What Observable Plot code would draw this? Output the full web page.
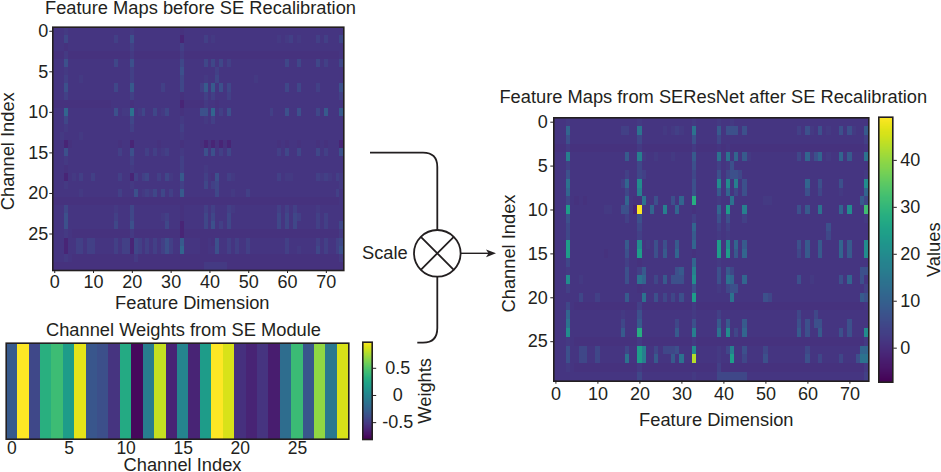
<!DOCTYPE html>
<html><head><meta charset="utf-8">
<script src="https://cdn.jsdelivr.net/npm/d3@7"></script>
<script src="https://cdn.jsdelivr.net/npm/@observablehq/plot@0.6"></script>
<style>
html,body{margin:0;padding:0;background:#fff}
#fig{position:relative;width:941px;height:472px;overflow:hidden;font-family:"Liberation Sans",Arial,sans-serif;color:#231f20}
#fig>svg,#fig>figure{position:absolute;margin:0}
g[aria-label="cell"]{filter:blur(0.55px)}
</style></head><body><div id="fig"></div>
<script>
// Estimated cell levels, read by eye; rows are channels 0-29, each grouped in fives over features 0-74.
const levelValues = {"-":-1.4, ",":0.7, ".":1.5, ":":2.4, "1":3.4, "2":4.8, "3":6.5, "4":8.5, "5":11, "6":14, "7":17, "8":20, "9":24, "a":28, "b":32, "c":43, "d":49};
const beforeRows = [
"...:. ..... ..... ..... :.... ..... ...,. ..... ..... ..... ..... ..... ..... ..... .....",
"...2. ..... ..... .1... 3.... ..... ...-. ....1 .:... ..... ..... ...:. :1.:. ...1. 1...2",
"...,. ..... ..... ..... 1.... ..... ...1. ..... ..... ..... ..... ..... ..... ..... .....",
",,,:, ,,,,, ,,,,, ,,,,, :,,,, ,,,,, ,,,:, ,,,,, ,,,,, ,,,,, ,,,,, ,,,,, ,,,,, ,,,,, ,,,,.",
"...3. ..... ..... .2... 3.... ..... ...2. ....2 .2.2. 1.... ..... ..... 2..2. ...2. 1...2",
"...:. ..... ..... ..... 1.... ..... ...3. ..... ..1.. ..... ..... ..... ..... ..... .....",
"...1. ..:.. ..... ..... 1.... ..... ...2. ....: ..2.. ..... ..:.. ..... ..... ..... .....",
"...3. ..... ..... .2... 4.... ...1. ...2. ...14 .4.3. 2.... ..... ..... 2..2. ...1. ....3",
"...1. ..... ..... ..... 1.... ..... ...,. ....1 .1... 1.... ..... ..... ..... ..... ....1",
",,,,, ,,,,, ,,,,, ..... ,.... ..... ...-, ,,,,: ..,.. ..... ..... ..... ..... ..... .....",
"...5. ..... ..... .3.:: 6.:2. .2.:2 ...,. ...33 .5.1. 3.... ..... .1... 3..3. ...2. 4...4",
"...2. ..... ..... ..... 2.... ..... ...:. ....: .1... ..... ..... ..... ..... ..... .....",
"...:. ..... ..... ..... 1.... ..... ...1. ..... ..... ..... ..... ..... ..... ..... .....",
"..:.. ..:.. ..... ..... ..... ..... ...:. ..... ..... ..... ..... ..... ..... ..... .....",
"...-, ..... ..... ..,.. -.... ..,.. ...,. ...,- ,-,-, -.... ..... ...,. ,..,. ...,. ,...-",
"...3. ..... ..... ..1.. 3...1 .1.:1 ...:. ....3 .3.1. 2.... ..... ...1. 2..2. ...2. 1...3",
"...:. ..... ..... ..... 1.... ..... ...1. ..... ..... ..... ..... ..... ..... ..... .....",
"...,. ..... ..... ..... :.... ..... ...1. ....: ..... ..... ..... ..... ..... ..... .....",
"...-. :.1.. 1.... ..1.. -1.12 ..1.2 :..4. ....1 .,3.. 1:... ..... ...1. ::... ...1: 1:.1:",
"...:. ..... ..... ..... :.... ..... ...1. ....2 .12.. ..... ..... ..... ..... ..... ....:",
"..... ..:.. ..... ..1.. .3.:1 :2.2. 1..4. ..... ..2.. .:... 1.... ..... ..... ..... ...1.",
",,,,, ,,,,, ,,,,, ,,,,, ,,,,, ,,,,, ,,,,, ,,,,, ,,,,, ,,,,, ,,,,, ,,,,, ,,,,, ,,,,, ,,,,.",
"...2. ..... ..... .:... 2.... ..... ...,. ....1 .1... 1:... ..... ...1. 1.1.. ...:. .....",
"...3. ..... ..... .1... 2.... ...:1 ...,. ....2 .2... 2.... ..... ...2. 2.21. ...1. 1....",
"...3. ..... ..... .2... 3.... ....2 ...-. ....2 .3.1. 2.... ..... ...2. 2.2.. ...1. 1...2",
"...:. ,,,,, ,,,,, ,,,,, :,,,, ,,,,, ,,,-, ,,,,, ,,,,, ,,,,, ,,,,, ,,,,, ,,,,, ,,,,, ,,,,:",
"...-. .11.1 1.... .1.11 -21.1 .1.13 1..4. ...,, .,3.. 1.1.. 1.... ..... 1.... ...1. 1..12",
"...-. .11.1 1.... .1.11 -21.1 .1.13 1..5. ...,, ..3.. 1.1.. 1.... ..... 1..:. ...2. 1..13",
"...:. ,,,,, ,,,,, ,,,,, ,:,,, ,,,,, ,,,,, ,,,,, ,,,,, ,,,,, ,,,,, ,,,,, ,,,,, ,,,,, ,,,,:",
",,,,, ,,,,, ,,,,, ,,,,, ,,,,, ,,,,, ,,,,, ,,,,: ::::: ,,,,, ,,,,, ,,,,, ,,,,, ,,,,, ,,,,,"
];
const afterRows = [
"...:. ..... ..... ..... :.... ..... ...:. ....: ..:.. ..... ..... ..... ..... ..... .....",
"...5. ..... ..... .11.. 6.... .:.:1 :..6. ....4 .333. 3.... ..... ...1. 3:.3. :..3. 3:..4",
"...3. ..... ..... ..... 2.... ..... ...3. ....2 ..... ..... ..... ..... ..... ..... ....1",
",,,:, ,,,,, ,,,,, ,,,,, :,,,, ,,,,, ,,,:, ,,,,. ,.,,, ,,,,, ,,,,, ,,,,, ,,,,, ,,,,, ,,,,.",
"...7. ..... ..... ..4.. 7:..: ...:. ...4. ....6 .6.5. 4:... ..... ...2. 5:35. :..5. 4...6",
"...1. ..... ..... ..... 2.... ..... ...3. ....1 .:3.. ..... ..... ..... ..... ..... .....",
"...3. ..... ..... ..1.. 21... ..... ...2. ....3 .2332 ..... ..... ..... ..... ..... ....:",
"...6. ..... ..... .15.. 8.... ..... ...3. ....8 .8.7. 3.... ..... ..... 5..3. ...3. ....8",
"...5. ..... ..... ..2.. 7.... ..... ...3. ....4 .5.2. 3.... ..... ..... 3..2. ...:. ....5",
"...2. ,.,.. ..... ..5., ,6..3 ...3. 5..a. ....: ..6.. ..... ::... ..... ..... ..... ...42",
"...9. ..... ..::. .33.- d..5. .7..5 ...,. ....5 .9... 7.... ..... ...3. 4..6. ...5. 8...b",
"...3. ..... ..... ..1.. 3.... ..... ...1. ....3 .3... 1.... ..... ..... ..... ..... ....:",
"...2. ..... ..... ..... 2.... ..... ...5. ....1 .1... ..... ..... ..... ..... 3.... .....",
"...2. ..... ..... ..... 1.... ..... ...4. ....: .:... ..... ..... ..... ..... 2.... .....",
"...9. ..... ..... ..4.. 8.:.3 .3..4 ...5. ....9 .8.5. 4.... ..... ...3. 4..4. ...5. 4...8",
"...9. ..... ..,.. ..3.. 9...3 .4..5 ...,. ....9 .9.4. 5.... ..... ...2. 4..4. ...5. 4...8",
"...2. ..... ..... ..1.. ,.... ..... ...5. ....: ..... ..... ..... ..... ..... ..... .....",
"...:. ..... ..... ..3.. 14... ....3 4..7. ....3 .42.. ..... ..... ..... ..... ..... ...33",
"...8. .:... ..... ..3.. 65..2 .4.33 3..8. ....3 .65.. 5.... ..... ...3. .:... ...3. 5..3.",
"...1. ..... ..... ..... ,.... ..... ...3. ....: .233. ..... ..... ..... ..... ..... ....1",
"..... .2... 1.... ..4.. .6..3 .2.2. 3..9. ..... ..6.. ..... 32... ..... ..... ..... ...43",
"...2. ,,,,, ,,,,, ,,,,, 1,,,, ,,,,, ,,,:, ,,,,, ,,,,, ,,,,, ,,,,, ,,,,, ,,,,, ,,,,, ,,,,.",
"...5. ..... ..... .:... 3.... ..... ...:. ....1 ..... ..... ..... ...2. ..2.. ..... .....",
"...6. ..... ..... .2... 4.... ....2 ...3. ....4 .4... 4.... ..... ...3. 3.33. ..... 3....",
"...8. ..... ..... .4... a.... ....4 ...7. ....6 .8.2. 5.... ..... ...4. 3..4. ...3. 3...8",
"...:. ,,,,, ,,,,, ,,,,, :,,,, ,,,,, ,,,:, ,,,,, ,,,,, ,,,,, ,,,,, ,,,,, ,,,,, ,,,,, ,,,,:",
"...3. .22.. 2.... ..2.. 97..2 .2223 ...8. ....: .27.. 3.... 2.... ..... 2.... ..... ...55",
"...3. .22.. 2.... ..6.. 97..4 ...4. 6..c. ....: ..9.. 2.... 3.... ..... 3..2. ...2. ..366",
"...:. ,,,,, ,,,,, ,,,,, :,,,, ,,,,, ,,,,, ,,,,1 ,,,,, ,,,,, ,,,,, ,,,,, ,,,,, ,,,,, ,,,,:",
"..... ..... ..... ..... 2.... ..... ...:. ....2 22222 2.... ..... ..... ..... ..... ....1"
];
const channelWeights = [-0.31,0.98,-0.42,0.32,0.42,0.17,0.91,-0.33,-0.38,-0.54,0.28,-0.77,-0.06,0.82,-0.63,0,-0.63,0.17,0.98,0.87,-0.56,-0.63,-0.54,-0.67,-0.18,0.41,-0.33,0.68,-0.09,0.87];
const featureTicks = [0,10,20,30,40,50,60,70];
const channelTicks = [0,5,10,15,20,25];
const weightTicks = [-0.5,0,0.5];
const valueTicks = [0,10,20,30,40];
const valueDomain = [-7.25,49.2];
const weightDomain = [-0.81,0.98];

const ink = "#231f20", font = "'Liberation Sans',Arial,sans-serif", tickFont = 18, labelFont = 18.3;
const fig = document.getElementById("fig");
const viridis = d => ({type:"linear", scheme:"viridis", domain:d});
const toCells = rows => rows.flatMap((s,r)=>Array.from(s.replace(/ /g,"")).map((ch,c)=>({r,c,v:levelValues[ch]})));
const label = {fontSize:labelFont,fill:ink,textAnchor:"middle",lineAnchor:"middle"};

function place(el,left,top){ el.style.left=left+"px"; el.style.top=top+"px"; fig.appendChild(el); }

// L,R,T,B: frame edges in page pixels
function heatmap({rows,L,R,T,B,title,titleDy,titleDx,xLabelDy,yLabelDx,yLabelDy=0,xLabelDx=0,tickPad,box}){
  const [bl,bt,br,bb]=box;
  const plot=Plot.plot({
    width:br-bl,height:bb-bt,marginLeft:L-bl,marginRight:br-R,marginTop:T-bt,marginBottom:bb-B,
    style:{fontFamily:font,color:ink,background:"transparent",overflow:"visible"},
    x:{type:"band",domain:d3.range(75),padding:0,round:false},
    y:{type:"band",domain:d3.range(30),padding:0,round:false},
    color:viridis(valueDomain),
    marks:[
      Plot.cell(toCells(rows),{x:"c",y:"r",fill:"v",shapeRendering:"crispEdges",ariaLabel:"cell"}),
      Plot.frame({stroke:ink,strokeWidth:1.6}),
      Plot.axisX({ticks:featureTicks,label:null,tickSize:3,tickPadding:tickPad,fontSize:tickFont,stroke:ink,fill:ink}),
      Plot.axisY({ticks:channelTicks,label:null,tickSize:3,tickPadding:tickPad,fontSize:tickFont,stroke:ink,fill:ink}),
      Plot.text([title],{...label,frameAnchor:"top",dy:titleDy,dx:titleDx}),
      Plot.text(["Feature Dimension"],{...label,frameAnchor:"bottom",dy:xLabelDy,dx:xLabelDx}),
      Plot.text(["Channel Index"],{...label,frameAnchor:"left",dx:yLabelDx,dy:yLabelDy,rotate:-90})
    ]
  });
  place(plot,bl,bt);
}
heatmap({rows:beforeRows,L:52.3,R:343.3,T:26.7,B:270,title:"Feature Maps before SE Recalibration",titleDy:-18.7,titleDx:2.2,xLabelDy:33,yLabelDx:-44.3,yLabelDy:2.4,xLabelDx:-6,tickPad:1.5,box:[0,0,360,320]});
heatmap({rows:afterRows,L:553.3,R:868.3,T:117.3,B:380.7,title:"Feature Maps from SEResNet after SE Recalibration",titleDy:-20.3,titleDx:2,xLabelDy:39.3,yLabelDx:-44.3,yLabelDy:4,xLabelDx:5,tickPad:3,box:[490,80,875,430]});

// Channel weights strip
place(Plot.plot({
  width:360,height:152,marginLeft:5.7,marginRight:11.7,marginTop:22.7,marginBottom:33.3,
  style:{fontFamily:font,color:ink,background:"transparent",overflow:"visible"},
  x:{type:"band",domain:d3.range(30),padding:0,round:false},
  color:viridis(weightDomain),
  marks:[
    Plot.cell(channelWeights,{x:(d,i)=>i,fill:d=>d,shapeRendering:"crispEdges"}),
    Plot.frame({stroke:ink,strokeWidth:1.6}),
    Plot.axisX({ticks:channelTicks,label:null,tickSize:0,tickPadding:2,fontSize:tickFont-0.5,fill:ink}),
    Plot.text(["Channel Weights from SE Module"],{...label,frameAnchor:"top",dy:-12.7,dx:6}),
    Plot.text(["Channel Index"],{...label,frameAnchor:"bottom",dy:26.4,dx:5})
  ]
}),0,320);

// Colour bars
function colorbar({domain,ticks,L,R,T,B,box,text,labelDx,tickFmt,anchor,tickDx}){
  const [bl,bt,br,bb]=box;
  const [d0,d1]=domain, n=264, stops=d3.range(0,n).map(i=>d0+(d1-d0)*i/n), step=(d1-d0)/n;
  place(Plot.plot({
    width:br-bl,height:bb-bt,marginLeft:L-bl,marginRight:br-R,marginTop:T-bt,marginBottom:bb-B,
    style:{fontFamily:font,color:ink,background:"transparent",overflow:"visible"},
    x:{axis:null,domain:[0,1]},
    y:{domain,range:[B-bt,T-bt]},
    color:viridis(domain),
    marks:[
      Plot.rect(stops,{y1:d=>d,y2:d=>d+step,x1:0,x2:1,fill:d=>d+step/2,shapeRendering:"crispEdges"}),
      Plot.frame({stroke:ink,strokeWidth:1.6}),
      Plot.axisY({anchor:"right",ticks,label:null,tickSize:3.5,tickPadding:tickDx,fontSize:tickFont,tickFormat:tickFmt,textAnchor:anchor,stroke:ink,fill:ink}),
      Plot.text([text],{...label,frameAnchor:"right",dx:labelDx,rotate:-90})
    ]
  }),bl,bt);
}
colorbar({domain:weightDomain,ticks:weightTicks,L:362.3,R:371.7,T:341.7,B:439,box:[355,330,441,450],text:"Weights",labelDx:53,tickFmt:d=>String(d),anchor:"middle",tickDx:22});
colorbar({domain:valueDomain,ticks:valueTicks,L:878.3,R:892.3,T:116.7,B:381.7,box:[872,105,941,395],text:"Values",labelDx:41,tickFmt:d=>String(d),anchor:"start",tickDx:4});

// Scale connector diagram
const ns="http://www.w3.org/2000/svg";
const diagram=d3.select(fig).append("svg").attr("xmlns",ns).attr("width",941).attr("height",472)
  .style("left",0).style("top",0).style("pointer-events","none")
  .style("font-family",font);
const g=diagram.append("g").attr("fill","none").attr("stroke",ink).attr("stroke-width",1.8);
g.append("path").attr("d","M370,152.7H423Q437.3,152.7 437.3,167V230");
g.append("path").attr("d","M437.3,276.7V328Q437.3,342.7 423,342.7H417.3");
g.append("circle").attr("cx",437.3).attr("cy",253.3).attr("r",23.3);
const k=23.3*Math.SQRT1_2;
g.append("path").attr("d",`M${437.3-k},${253.3-k}L${437.3+k},${253.3+k}M${437.3-k},${253.3+k}L${437.3+k},${253.3-k}`);
g.append("path").attr("d","M461,253.3H490").attr("stroke-width",1.4);
diagram.append("path").attr("d","M496,253.3L486,249.4L488.5,253.3L486,257.2Z").attr("fill",ink);
diagram.append("text").attr("x",362).attr("y",259).attr("font-size",labelFont).attr("fill",ink).text("Scale");
</script></body></html>
